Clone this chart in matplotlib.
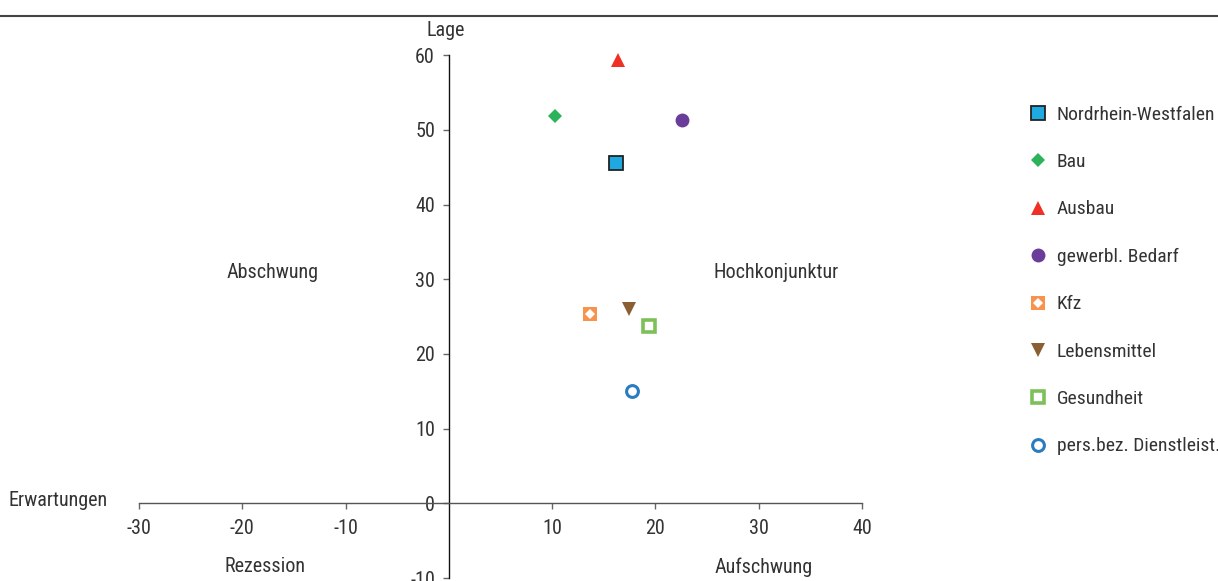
import matplotlib
matplotlib.use("Agg")
import matplotlib.pyplot as plt
from matplotlib.lines import Line2D
from matplotlib.legend_handler import HandlerTuple

plt.rcParams['font.family'] = ['Roboto Condensed', 'DejaVu Sans']
plt.rcParams['axes.unicode_minus'] = False

# Data: (Erwartungen, Lage)
series = ["Nordrhein-Westfalen", "Bau", "Ausbau", "gewerbl. Bedarf", "Kfz",
          "Lebensmittel", "Gesundheit", "pers.bez. Dienstleist."]
erwartungen = [16.2, 10.3, 16.4, 22.6, 13.7, 17.4, 19.4, 17.7]
lage = [45.6, 51.8, 59.4, 51.3, 25.3, 26.0, 23.8, 15.1]

x_ticks = [-30, -20, -10, 10, 20, 30, 40]
y_ticks = [-10, 0, 10, 20, 30, 40, 50, 60]

styles = [
    dict(marker='s', ms=9.5, mfc='#1EAAE0', mec='#222222', mew=1.3),
    dict(marker='D', ms=7, mfc='#2BB35A', mec='#2BB35A', mew=0),
    dict(marker='^', ms=10, mfc='#EE3124', mec='#EE3124', mew=0),
    dict(marker='o', ms=10, mfc='#6A3D9A', mec='#6A3D9A', mew=0),
    dict(marker='s', ms=9.5, mfc='#F7934C', mec='#F7934C', mew=0),
    dict(marker='v', ms=10, mfc='#8B5E34', mec='#8B5E34', mew=0),
    dict(marker='s', ms=8, mfc='white', mec='#7DC05A', mew=2.6),
    dict(marker='o', ms=8.5, mfc='white', mec='#2B7BC0', mew=2.2),
]
kfz_inner = dict(marker='D', ms=5, mfc='white', mec='white', mew=0)

W, H = 1218, 581
fig = plt.figure(figsize=(W / 100, H / 100), dpi=100)
ax = fig.add_axes([139 / W, 0, (862 - 139) / W, (581 - 53) / H])
ax.set_xlim(-30, 40)
ax.set_ylim(-10.4, 60.3)

handles = []
for i, name in enumerate(series):
    h, = ax.plot([erwartungen[i]], [lage[i]], linestyle='none', **styles[i], zorder=3)
    if name == "Kfz":
        h2, = ax.plot([erwartungen[i]], [lage[i]], linestyle='none', **kfz_inner, zorder=4)
        handles.append((h, h2))
    else:
        handles.append(h)

txt = '#333333'
fs = 14.5
for s in ['top', 'right']:
    ax.spines[s].set_visible(False)
ax.spines['left'].set_position(('data', 0))
ax.spines['bottom'].set_position(('data', 0))
ax.spines['left'].set_bounds(-10, 60)
ax.spines['bottom'].set_bounds(-30, 40)
ax.spines['left'].set_color('#111111')
ax.spines['bottom'].set_color('#555555')
for s in ['left', 'bottom']:
    ax.spines[s].set_linewidth(1.0)
ax.set_xticks(x_ticks)
ax.set_yticks(y_ticks)
ax.tick_params(axis='both', direction='out', length=4, width=1, color='#666666',
               labelsize=fs, labelcolor=txt)
ax.tick_params(axis='x', pad=7)
ax.tick_params(axis='y', pad=6)
ax.patch.set_alpha(0)

ax.text(-0.3, 63.3, "Lage", ha='center', va='center', fontsize=fs, color=txt, clip_on=False)
ax.text(-33.0, 0.4, "Erwartungen", ha='right', va='center', fontsize=fs, color=txt, clip_on=False)
ax.text(-17.1, 30.9, "Abschwung", ha='center', va='center', fontsize=fs, color=txt)
ax.text(31.7, 30.9, "Hochkonjunktur", ha='center', va='center', fontsize=fs, color=txt)
ax.text(-17.8, -8.5, "Rezession", ha='center', va='center', fontsize=fs, color=txt)
ax.text(30.5, -8.5, "Aufschwung", ha='center', va='center', fontsize=fs, color=txt)

leg = fig.legend(handles, series, loc='upper left', bbox_to_anchor=(1020 / W, 1 - 98 / H),
                 frameon=False, fontsize=14, labelspacing=1.51, handlelength=1.0,
                 handletextpad=0.5, borderaxespad=0,
                 handler_map={tuple: HandlerTuple(ndivide=1)})
for t in leg.get_texts():
    t.set_color(txt)

fig.add_artist(Line2D([0, 1], [1 - 16 / H, 1 - 16 / H], transform=fig.transFigure,
                      color='#444444', lw=1.5))

fig.savefig("out.png", dpi=100)
